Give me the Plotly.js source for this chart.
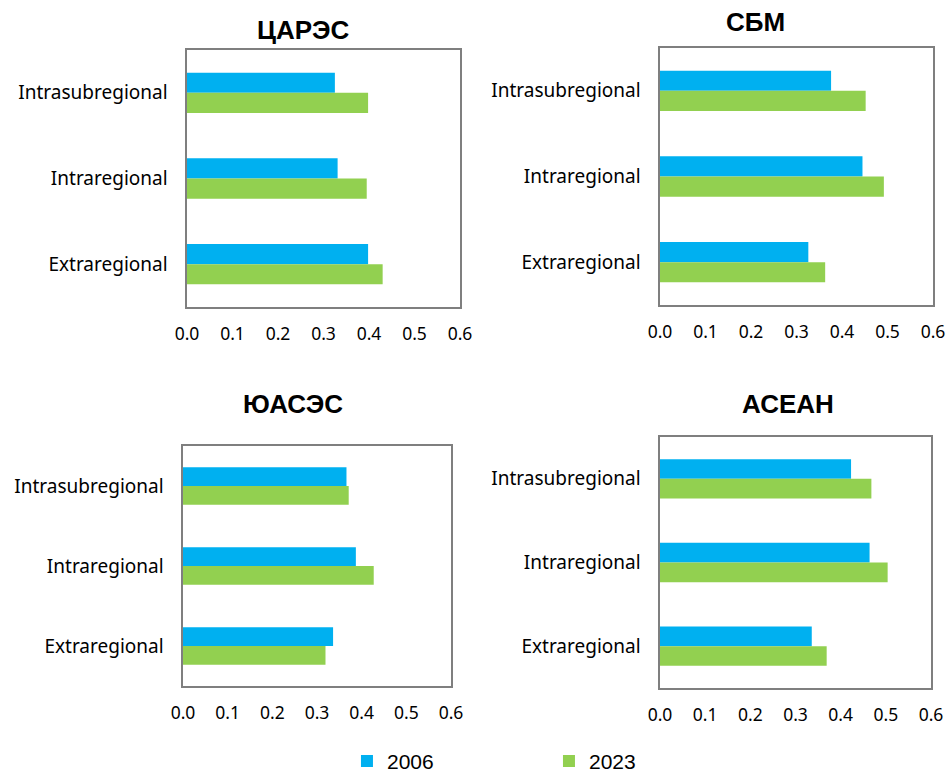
<!DOCTYPE html>
<html>
<head>
<meta charset="utf-8">
<script src="https://cdn.plot.ly/plotly-3.0.1.min.js"></script>
<style>html,body{margin:0;padding:0;background:#fff;}#chart{width:948px;height:774px;}</style>
</head>
<body>
<div id="chart"></div>
<script>
// ---- data ----
const categories = ['Intrasubregional', 'Intraregional', 'Extraregional'];
const regions = ['ЦАРЭС', 'СБМ', 'ЮАСЭС', 'АСЕАН'];
const years = ['2006', '2023'];
const xTicks = [0, 0.1, 0.2, 0.3, 0.4, 0.5, 0.6];

const carec2006 = [0.325, 0.331, 0.398];
const carec2023 = [0.398, 0.395, 0.430];
const sbm2006   = [0.376, 0.445, 0.326];
const sbm2023   = [0.452, 0.492, 0.363];
const sasec2006 = [0.366, 0.387, 0.336];
const sasec2023 = [0.371, 0.427, 0.319];
const asean2006 = [0.423, 0.464, 0.336];
const asean2023 = [0.468, 0.504, 0.369];

const series2006 = [carec2006, sbm2006, sasec2006, asean2006];
const series2023 = [carec2023, sbm2023, sasec2023, asean2023];

// ---- layout helpers ----
const W = 948, H = 774;
const colors = ['#00B0F0', '#92D050'];
// plot boxes in pixels: [left, right, top, bottom]
const boxes = [
  [187, 460, 50, 307],
  [660, 933, 48, 305],
  [183, 451, 446, 686],
  [660, 931, 437, 688]
];
const titlePos = [[303, 30], [755, 22], [293, 404], [788, 404]];

const traces = [];
const layout = {
  width: W, height: H,
  margin: {l: 0, r: 0, t: 0, b: 0, pad: 0, autoexpand: false},
  paper_bgcolor: '#fff', plot_bgcolor: '#fff',
  barmode: 'group', bargap: 0.53, bargroupgap: 0,
  font: {family: 'Noto Sans, sans-serif', color: '#000'},
  showlegend: true,
  legend: {
    orientation: 'h', x: 0.366, y: -0.01, xanchor: 'left', yanchor: 'bottom',
    font: {family: 'Liberation Sans, Arial, sans-serif', size: 21, color: '#000'},
    entrywidth: 157, itemwidth: 30, traceorder: 'normal', tracegroupgap: 0
  },
  annotations: []
};

regions.forEach((reg, i) => {
  const s = i === 0 ? '' : String(i + 1);
  const [l, r, t, b] = boxes[i];
  [series2006[i], series2023[i]].forEach((vals, k) => {
    traces.push({
      type: 'bar', orientation: 'h',
      x: vals, y: categories,
      name: years[k], legendgroup: years[k], showlegend: i === 0,
      marker: {color: colors[k], line: {width: 0}},
      xaxis: 'x' + s, yaxis: 'y' + s,
      hoverinfo: 'x+y+name'
    });
  });
  layout['xaxis' + s] = {
    domain: [l / W, r / W], anchor: 'y' + s, automargin: false,
    range: [0, 0.6], tickvals: xTicks, tickformat: '.1f',
    showgrid: false, zeroline: false,
    showline: true, mirror: true, linecolor: '#7f7f7f', linewidth: 1.6,
    ticks: '', ticklabelstandoff: 10,
    tickfont: {family: 'Noto Sans, sans-serif', size: 17.5, color: '#000'},
    fixedrange: true
  };
  layout['yaxis' + s] = {
    domain: [1 - b / H, 1 - t / H], anchor: 'x' + s, automargin: false,
    type: 'category', autorange: 'reversed', categoryorder: 'array', categoryarray: categories,
    showgrid: false, zeroline: false,
    showline: true, mirror: true, linecolor: '#7f7f7f', linewidth: 1.6,
    ticks: '', ticklabelstandoff: 14,
    tickfont: {family: 'Noto Sans, sans-serif', size: 19, color: '#000'},
    fixedrange: true
  };
  layout.annotations.push({
    text: '<b>' + reg + '</b>', xref: 'paper', yref: 'paper',
    x: titlePos[i][0] / W, y: 1 - titlePos[i][1] / H,
    xanchor: 'center', yanchor: 'middle', showarrow: false,
    font: {family: 'Liberation Sans, Arial, sans-serif', size: 26, color: '#000'}
  });
});

Plotly.newPlot('chart', traces, layout, {displayModeBar: false, staticPlot: true});
</script>
</body>
</html>
